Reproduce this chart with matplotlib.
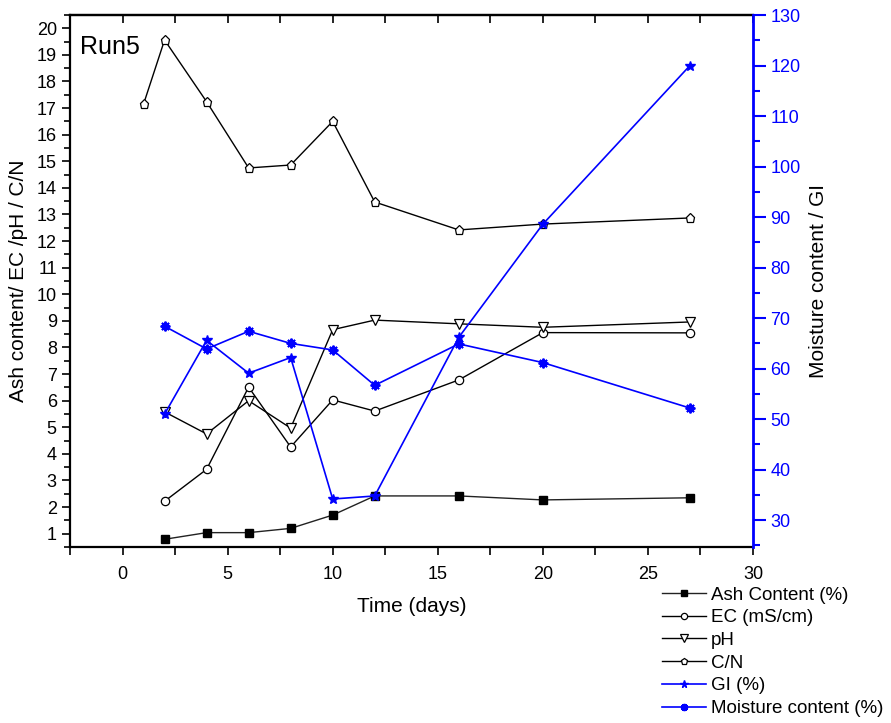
import numpy as np
import matplotlib
matplotlib.use("Agg")
import matplotlib.pyplot as plt
from matplotlib.ticker import MultipleLocator

plt.rcParams['font.family'] = ['Liberation Sans', 'DejaVu Sans']

# data
days = [2, 4, 6, 8, 10, 12, 16, 20, 27]
ash = [0.79, 1.04, 1.04, 1.20, 1.70, 2.42, 2.42, 2.27, 2.35]
ec = [2.22, 3.42, 6.51, 4.26, 6.03, 5.61, 6.78, 8.56, 8.55]
ph = [5.58, 4.75, 6.00, 4.97, 8.67, 9.03, 8.89, 8.76, 8.96]
cn_days = [1, 2, 4, 6, 8, 10, 12, 16, 20, 27]
cn = [17.15, 19.56, 17.24, 14.75, 14.86, 16.50, 13.47, 12.42, 12.64, 12.87]
gi = [51.0, 65.6, 59.1, 62.2, 34.2, 34.8, 66.2, 88.6, 120.0]
moisture = [68.4, 63.9, 67.4, 65.0, 63.7, 56.7, 64.9, 61.2, 52.2]

blue = '#0000FF'

fig = plt.figure(figsize=(8.91, 7.23), dpi=100)
ax = fig.add_axes([70/891, 1-547/723, 683/891, 532/723])
ax2 = ax.twinx()

l1, = ax.plot(days, ash, color='#222222', lw=1, marker='s', ms=5.5, mfc='black', mec='black',
              label='Ash Content (%)')
l2, = ax.plot(days, ec, color='black', lw=1, marker='o', ms=6, mfc='white', mec='black',
              mew=0.9, label='EC (mS/cm)')
l3, = ax.plot(days, ph, color='black', lw=1, marker='v', ms=7, mfc='white', mec='black',
              mew=0.9, label='pH')
l4, = ax.plot(cn_days, cn, color='black', lw=1, marker='p', ms=6.5, mfc='white', mec='black',
              mew=0.9, label='C/N')
l5, = ax2.plot(days, gi, color=blue, lw=1.2, marker='*', ms=7.5, mfc=blue, mec=blue,
               label='GI (%)')
l6, = ax2.plot(days, moisture, color=blue, lw=1.2, marker=(8, 2, 0), ms=7, mec=blue,
               mew=1.4, label='Moisture content (%)')

ax.set_xlim(-2.5, 30)
ax.set_ylim(0.5, 20.5)
ax2.set_ylim(24.7, 130)

ax.xaxis.set_major_locator(MultipleLocator(5))
ax.xaxis.set_minor_locator(MultipleLocator(2.5))
ax.yaxis.set_major_locator(MultipleLocator(1))
ax.yaxis.set_minor_locator(MultipleLocator(0.5))
ax2.yaxis.set_major_locator(MultipleLocator(10))
ax2.yaxis.set_minor_locator(MultipleLocator(5))

ax.tick_params(axis='both', which='major', direction='out', length=6, width=1.2, labelsize=13)
ax.tick_params(axis='both', which='minor', direction='out', length=4, width=1.2)
ax.tick_params(axis='x', which='both', length=6, pad=8)
ax2.tick_params(axis='y', which='major', direction='out', length=9, width=1.5,
                colors=blue, labelsize=13)
ax2.tick_params(axis='y', which='minor', direction='out', length=5, width=1.5, colors=blue)

top = ax.secondary_xaxis('top')
top.xaxis.set_major_locator(MultipleLocator(2.5))
top.tick_params(direction='in', length=6, width=1.2, labeltop=False)

for s in ['left', 'bottom', 'top']:
    ax.spines[s].set_linewidth(1.6)
top.spines['top'].set_linewidth(1.6)
for s in ['left', 'bottom', 'top']:
    ax2.spines[s].set_visible(False)
ax2.spines['right'].set_color(blue)
ax2.spines['right'].set_linewidth(2)
ax.spines['right'].set_visible(False)

ax.set_xlabel('Time (days)', fontsize=15, labelpad=10)
ax.set_ylabel('Ash content/ EC /pH / C/N', fontsize=15, labelpad=6)
ax2.set_ylabel('Moisture content / GI', fontsize=15, labelpad=6)

ax.text(0.014, 0.962, 'Run5', transform=ax.transAxes, fontsize=18, va='top', ha='left')

fig.legend(handles=[l1, l2, l3, l4, l5, l6], loc='upper left',
           bbox_to_anchor=(653/891, 1-577/723), frameon=False, fontsize=13.5,
           handlelength=2.3, handletextpad=0.3, labelspacing=0.3, borderpad=0,
           markerscale=0.75)

fig.savefig('out.png', dpi=100)
